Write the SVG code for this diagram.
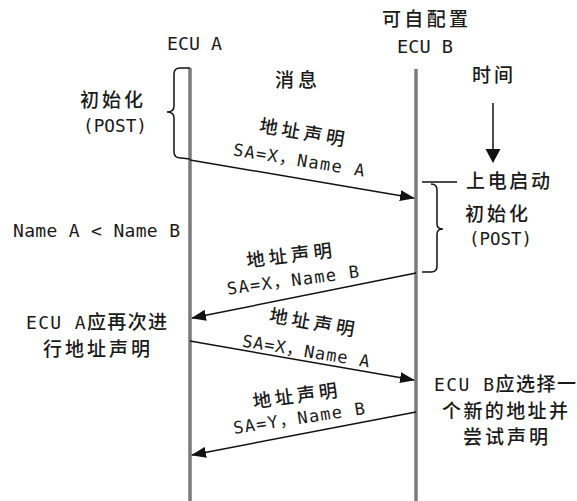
<svg xmlns="http://www.w3.org/2000/svg" width="577" height="501" viewBox="0 0 577 501">
<style>
text{font-family:"DejaVu Sans Mono","Noto Sans CJK SC",monospace;font-size:18px;fill:#1a1a1a}
.cjk{font-family:"Noto Sans CJK SC",sans-serif;font-size:19px;font-weight:500}
.lbl{font-size:17px}
.cjk.lbl{font-size:18.5px}
.life{stroke:#7a7a7a;stroke-width:3.5;fill:none}
.msg{stroke:#111;stroke-width:1.5;fill:none;marker-end:url(#ah)}
.br{stroke:#111;stroke-width:1.5;fill:none}
</style>
<defs>
<marker id="ah" markerUnits="userSpaceOnUse" markerWidth="15" markerHeight="11" refX="14" refY="5.5" orient="auto">
<path d="M0,0 L15,5.5 L0,11 z" fill="#111"/>
</marker>
</defs>
<rect width="577" height="501" fill="#fff"/>

<g id="ecuA">
<text x="194.5" y="50" text-anchor="middle" textLength="55" lengthAdjust="spacingAndGlyphs">ECU A</text>
<line class="life" x1="190" y1="68" x2="190" y2="501"/>
</g>
<g id="ecuB">
<text class="cjk" x="425" y="26" text-anchor="middle" textLength="86" lengthAdjust="spacing">可自配置</text>
<text x="425" y="53" text-anchor="middle" textLength="56" lengthAdjust="spacingAndGlyphs">ECU B</text>
<line class="life" x1="416" y1="69" x2="416" y2="501"/>
</g>
<g id="headers">
<text class="cjk" x="296" y="87" text-anchor="middle" textLength="42" lengthAdjust="spacing">消息</text>
<text class="cjk" x="492.5" y="82" text-anchor="middle" textLength="41" lengthAdjust="spacing">时间</text>
</g>
<g id="timeArrow">
<line class="br" x1="493" y1="103" x2="493" y2="150"/>
<polygon points="485.5,149 500.5,149 493,163" fill="#111"/>
</g>
<g id="initA">
<path class="br" d="M190,68 L180,68 Q174,68 174,74 L174,106 Q174,112 167,112 Q174,112 174,118 L174,152 Q174,158 181,158 L190,159"/>
<text class="cjk" x="111.5" y="107" text-anchor="middle" textLength="63" lengthAdjust="spacing">初始化</text>
<text x="115" y="132" text-anchor="middle" textLength="64" lengthAdjust="spacingAndGlyphs">(POST)</text>
</g>
<g id="initB">
<line class="br" x1="422" y1="182" x2="457" y2="182"/>
<path class="br" d="M431,184 Q437,184 437,190 L437,224 Q437,229 443,229 Q437,229 437,234 L437,266 Q437,272 431,272 L422,272"/>
<text class="cjk" x="508" y="188" text-anchor="middle" textLength="84" lengthAdjust="spacing">上电启动</text>
<text class="cjk" x="496.5" y="221" text-anchor="middle" textLength="63" lengthAdjust="spacing">初始化</text>
<text x="500.5" y="245" text-anchor="middle" textLength="63" lengthAdjust="spacingAndGlyphs">(POST)</text>
</g>
<g id="compare">
<text x="96.5" y="237" text-anchor="middle" textLength="167" lengthAdjust="spacing">Name A &lt; Name B</text>
</g>
<g id="noteA">
<text x="96.5" y="329" text-anchor="middle" textLength="141" lengthAdjust="spacing">ECU A<tspan class="cjk">应再次进</tspan></text>
<text class="cjk" x="96.5" y="356" text-anchor="middle" textLength="107" lengthAdjust="spacing">行地址声明</text>
</g>
<g id="noteB">
<text x="505" y="391" text-anchor="middle" textLength="142" lengthAdjust="spacing">ECU B<tspan class="cjk">应选择一</tspan></text>
<text class="cjk" x="505" y="417.5" text-anchor="middle" textLength="126" lengthAdjust="spacing">个新的地址并</text>
<text class="cjk" x="505.5" y="444" text-anchor="middle" textLength="85" lengthAdjust="spacing">尝试声明</text>
</g>

<g id="connectors">
<line class="msg" x1="190" y1="160" x2="414" y2="198"/>
<line class="msg" x1="416" y1="273" x2="192" y2="318"/>
<line class="msg" x1="190" y1="341" x2="414" y2="380"/>
<line class="msg" x1="416" y1="412" x2="192" y2="455"/>
</g>

<g id="msgLabels">
<g transform="rotate(9.5 302 132)"><text class="cjk lbl" x="302" y="139" text-anchor="middle" textLength="86" lengthAdjust="spacing">地址声明</text></g>
<g transform="rotate(9.2 299 160)"><text class="lbl" x="299" y="166" text-anchor="middle" textLength="133" lengthAdjust="spacing">SA=X，Name A</text></g>

<g transform="rotate(-7 289 255)"><text class="cjk lbl" x="289" y="262" text-anchor="middle" textLength="86" lengthAdjust="spacing">地址声明</text></g>
<g transform="rotate(-7.5 293 280)"><text class="lbl" x="293" y="286" text-anchor="middle" textLength="133" lengthAdjust="spacing">SA=X，Name B</text></g>

<g transform="rotate(9.8 312 322)"><text class="cjk lbl" x="312" y="329" text-anchor="middle" textLength="86" lengthAdjust="spacing">地址声明</text></g>
<g transform="rotate(9.4 306 351)"><text class="lbl" x="306" y="357" text-anchor="middle" textLength="129" lengthAdjust="spacing">SA=X，Name A</text></g>

<g transform="rotate(-7.8 295 395.5)"><text class="cjk lbl" x="295" y="402.5" text-anchor="middle" textLength="85" lengthAdjust="spacing">地址声明</text></g>
<g transform="rotate(-8.6 299 418)"><text class="lbl" x="299" y="424" text-anchor="middle" textLength="133" lengthAdjust="spacing">SA=Y，Name B</text></g>
</g>
</svg>
